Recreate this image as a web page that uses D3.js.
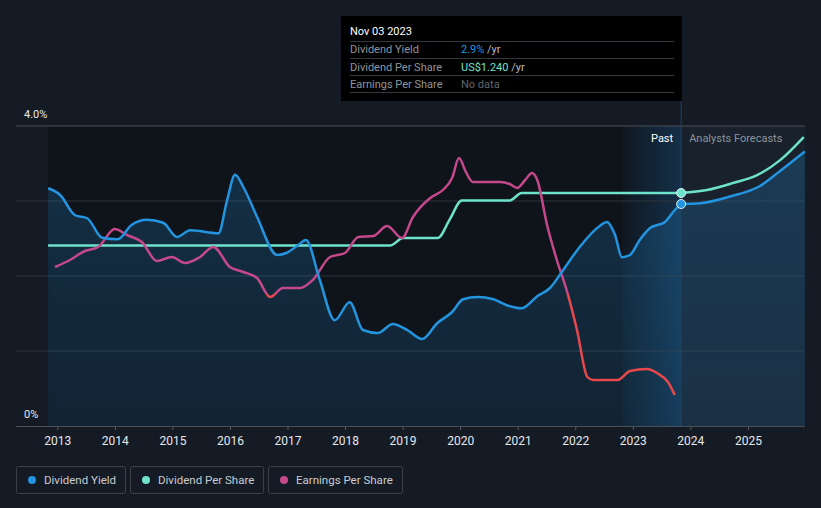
<!DOCTYPE html>
<html><head><meta charset="utf-8">
<script src="https://cdn.jsdelivr.net/npm/d3@7"></script>
<style>
html,body{margin:0;padding:0;background:#151b25;}
svg{display:block;font-family:Roboto,"Noto Sans",sans-serif;}
</style></head>
<body>
<svg id="chart" width="821" height="508"></svg>
<script>
// ---- data ----
const yearTicks = [2013,2014,2015,2016,2017,2018,2019,2020,2021,2022,2023,2024,2025];
const yTickLabels = ["0%","4.0%"];
const yieldDates = [2012.84,2013.05,2013.31,2013.52,2013.78,2014.05,2014.29,2014.56,2014.84,2015.08,2015.31,2015.80,2015.95,2016.09,2016.23,2016.47,2016.82,2016.99,2017.18,2017.32,2017.56,2017.82,2018.08,2018.31,2018.57,2018.83,2019.08,2019.34,2019.60,2019.86,2020.05,2020.30,2020.58,2020.81,2021.07,2021.34,2021.56,2021.79,2022.08,2022.43,2022.55,2022.69,2022.81,2022.95,2023.12,2023.30,2023.56,2023.73,2023.84];
const yieldValues = [3.17,3.08,2.81,2.77,2.51,2.49,2.68,2.75,2.71,2.52,2.61,2.57,3.01,3.35,3.19,2.79,2.28,2.31,2.41,2.48,1.95,1.41,1.65,1.28,1.24,1.36,1.28,1.16,1.37,1.52,1.69,1.72,1.69,1.61,1.57,1.73,1.84,2.08,2.39,2.67,2.72,2.55,2.25,2.28,2.48,2.64,2.72,2.88,2.96];
const yieldFcDates = [2023.84,2024.17,2024.69,2025.21,2025.56,2025.99];
const yieldFcValues = [2.96,2.97,3.06,3.20,3.40,3.66];
const dpsDates = [2012.84,2018.78,2019.01,2019.61,2019.82,2020.03,2020.86,2021.07,2023.84];
const dpsValues = [0.96,0.96,1.00,1.00,1.10,1.20,1.20,1.24,1.24];
const dpsFcDates = [2023.84,2024.29,2024.74,2025.16,2025.56,2025.97];
const dpsFcValues = [1.24,1.256,1.293,1.335,1.415,1.538];
const epsDates = [2012.96,2013.22,2013.48,2013.71,2014.00,2014.21,2014.47,2014.73,2014.99,2015.22,2015.48,2015.71,2016.00,2016.23,2016.47,2016.70,2016.92,2017.22,2017.44,2017.74,2018.00,2018.23,2018.49,2018.73,2018.99,2019.18,2019.48,2019.70,2019.86,2019.98,2020.10,2020.22,2020.69,2020.86,2020.99,2021.13,2021.25,2021.34,2021.51,2021.68,2021.86,2022.03,2022.21,2022.31,2022.74,2022.95,2023.25,2023.42,2023.61,2023.73];
const epsValues = [0.54,0.68,0.86,0.94,1.30,1.18,1.04,0.66,0.74,0.62,0.74,0.94,0.54,0.44,0.32,-0.06,0.12,0.12,0.28,0.74,0.82,1.14,1.16,1.36,1.12,1.54,1.92,2.08,2.32,2.72,2.44,2.24,2.24,2.20,2.12,2.28,2.42,2.28,1.38,0.68,0.04,-0.72,-1.66,-1.72,-1.72,-1.54,-1.50,-1.58,-1.76,-2.02];
const seriesNames = ["Dividend Yield","Dividend Per Share","Earnings Per Share"];
const seriesColors = ["#2394df","#6ee3cb","#c4488b"];
const epsNegColor = "#e8474b";
const nowDate = 2023.84;
const pastStart = 2022.83;
const tooltipDate = "Nov 03 2023";
const tooltipValues = ["2.9%","US$1.240","No data"];

// ---- layout ----
const svg = d3.select("#chart");
const x = d3.scaleLinear().domain([2013, 2025]).range([57.3, 747.9]);
const y = d3.scaleLinear().domain([0, 4]).range([426, 126]);
const yDps = d3.scaleLinear().domain([0, 1.24]).range([426, 193]);
const yEps = d3.scaleLinear().domain([0, 1]).range([294, 244]);
const x0 = x(2012.84), x1 = x(2025.99);

// panels
svg.append("rect").attr("x", x0).attr("y", 126).attr("width", x(pastStart)-x0).attr("height", 300).attr("fill", "#0f131a");
const defs = svg.append("defs");
const hg = defs.append("linearGradient").attr("id","hl").attr("x1","0").attr("x2","1");
hg.append("stop").attr("offset","0").attr("stop-color","#101821");
hg.append("stop").attr("offset","1").attr("stop-color","#143049");
svg.append("rect").attr("x", x(pastStart)).attr("y", 126).attr("width", x(nowDate)-x(pastStart)).attr("height", 300).attr("fill", "url(#hl)");
svg.append("rect").attr("x", x(nowDate)).attr("y", 126).attr("width", x1-x(nowDate)).attr("height", 300).attr("fill", "#19212d");

// gridlines
[1,2,3,4].forEach(v => {
  svg.append("line").attr("x1",16).attr("x2",x1).attr("y1",y(v)).attr("y2",y(v))
    .attr("stroke", v===4 ? "#4a4f58" : "#2e343d").attr("stroke-width",1);
});

// area under yield
const allYieldD = yieldDates.concat(yieldFcDates.slice(1));
const allYieldV = yieldValues.concat(yieldFcValues.slice(1));
const area = d3.area().x((d,i)=>x(allYieldD[i])).y0(y(0)).y1(d=>y(d)).curve(d3.curveMonotoneX);
const ag = defs.append("linearGradient").attr("id","ag").attr("x1","0").attr("x2","0").attr("y1","0").attr("y2","1");
ag.append("stop").attr("offset","0").attr("stop-color","#2394df").attr("stop-opacity",0.22);
ag.append("stop").attr("offset","1").attr("stop-color","#2394df").attr("stop-opacity",0.13);
svg.append("path").datum(allYieldV).attr("d", area).attr("fill","url(#ag)");

// now line
svg.append("line").attr("x1",x(nowDate)).attr("x2",x(nowDate)).attr("y1",100).attr("y2",426)
  .attr("stroke","#24425e").attr("stroke-width",1);

// axis
const xAxis = d3.axisBottom(x).tickValues(yearTicks).tickFormat(d3.format("d")).tickSize(4).tickPadding(6);
const ax = svg.append("g").attr("transform","translate(0,426)").call(xAxis);
ax.select(".domain").remove();
ax.selectAll("line").attr("stroke","#555b64");
ax.selectAll("text").attr("fill","#e6e8eb").attr("font-size",12).attr("font-family","Roboto,sans-serif");
svg.append("line").attr("x1",16).attr("x2",x1).attr("y1",426.5).attr("y2",426.5).attr("stroke","#4a4f58");

// y labels
svg.append("text").attr("x",24).attr("y",118).text(yTickLabels[1]).attr("fill","#e6e8eb").attr("font-size",11);
svg.append("text").attr("x",24).attr("y",418).text(yTickLabels[0]).attr("fill","#e6e8eb").attr("font-size",11);

// lines
const lineOf = (dates, ys) => d3.line().x((d,i)=>x(dates[i])).y(d=>ys(d)).curve(d3.curveMonotoneX);
svg.append("path").datum(dpsValues).attr("d", lineOf(dpsDates, yDps)).attr("fill","none").attr("stroke",seriesColors[1]).attr("stroke-width",2.5);
svg.append("path").datum(dpsFcValues).attr("d", lineOf(dpsFcDates, yDps)).attr("fill","none").attr("stroke",seriesColors[1]).attr("stroke-width",2.5);

// EPS with color split
defs.append("clipPath").attr("id","above").append("rect").attr("x",0).attr("y",0).attr("width",821).attr("height",yEps(0));
defs.append("clipPath").attr("id","below").append("rect").attr("x",0).attr("y",yEps(0)).attr("width",821).attr("height",508);
const epsLine = lineOf(epsDates, yEps);
svg.append("path").datum(epsValues).attr("d", epsLine).attr("fill","none").attr("stroke",seriesColors[2]).attr("stroke-width",2.5).attr("clip-path","url(#above)");
svg.append("path").datum(epsValues).attr("d", epsLine).attr("fill","none").attr("stroke",epsNegColor).attr("stroke-width",2.5).attr("clip-path","url(#below)");

svg.append("path").datum(yieldValues).attr("d", lineOf(yieldDates, y)).attr("fill","none").attr("stroke",seriesColors[0]).attr("stroke-width",2.5);
svg.append("path").datum(yieldFcValues).attr("d", lineOf(yieldFcDates, y)).attr("fill","none").attr("stroke",seriesColors[0]).attr("stroke-width",2.5);

// markers
svg.append("circle").attr("cx",x(nowDate)).attr("cy",yDps(1.24)).attr("r",4.5).attr("fill",seriesColors[1]).attr("stroke","#e8f0f5").attr("stroke-width",1);
svg.append("circle").attr("cx",x(nowDate)).attr("cy",y(yieldValues[yieldValues.length-1])).attr("r",4.5).attr("fill",seriesColors[0]).attr("stroke","#e8f0f5").attr("stroke-width",1);

// Past / forecasts
svg.append("text").attr("x",x(nowDate)-8).attr("y",142).attr("text-anchor","end").text("Past").attr("fill","#ffffff").attr("font-size",11);
svg.append("text").attr("x",x(nowDate)+8).attr("y",142).text("Analysts Forecasts").attr("fill","#8d939b").attr("font-size",11);

// tooltip
const tt = svg.append("g");
tt.append("rect").attr("x",341).attr("y",16).attr("width",341).attr("height",85).attr("fill","#000000");
tt.append("text").attr("x",350).attr("y",35).text(tooltipDate).attr("fill","#ffffff").attr("font-size",11);
[41,58,75,92].forEach(yy => tt.append("line").attr("x1",350).attr("x2",674).attr("y1",yy+0.5).attr("y2",yy+0.5).attr("stroke","#33373d"));
const valColors = [seriesColors[0], seriesColors[1], "#60656c"];
seriesNames.forEach((n,i) => {
  const yy = 53 + i*17.5;
  tt.append("text").attr("x",350).attr("y",yy).text(n).attr("fill","#8f949b").attr("font-size",11);
  const t = tt.append("text").attr("x",461).attr("y",yy).attr("font-size",11);
  t.append("tspan").attr("fill",valColors[i]).text(tooltipValues[i]);
  if (i < 2) t.append("tspan").attr("fill","#b8bcc2").text(" /yr");
});

// legend
const legendX = [16,130,268], legendW = [109,133,134];
seriesNames.forEach((n,i) => {
  const g = svg.append("g").attr("transform",`translate(${legendX[i]},466)`);
  g.append("rect").attr("x",0.5).attr("y",0.5).attr("width",legendW[i]).attr("height",27).attr("rx",2).attr("fill","none").attr("stroke","#3b4049");
  g.append("circle").attr("cx",16).attr("cy",14).attr("r",4).attr("fill",seriesColors[i]);
  g.append("text").attr("x",28).attr("y",18).text(n).attr("fill","#c9ccd1").attr("font-size",11.5);
});
</script>
</body></html>
